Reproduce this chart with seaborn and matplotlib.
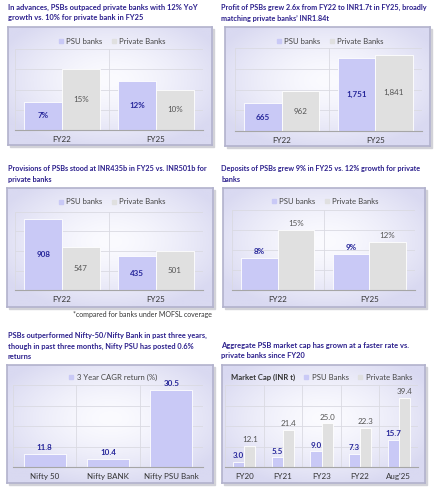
import numpy as np
import pandas as pd
import matplotlib
matplotlib.use('Agg')
import matplotlib.pyplot as plt
import seaborn as sns
from matplotlib.patches import Rectangle
from matplotlib.lines import Line2D
from matplotlib.colors import to_rgb

# ---- data ----
periods = ['FY22', 'FY25']
adv_psu = [7, 12]
adv_pvt = [15, 10]
profit_psu = [665, 1751]
profit_pvt = [962, 1841]
prov_psu = [908, 435]
prov_pvt = [547, 501]
dep_psu = [8, 9]
dep_pvt = [15, 12]
indices = ['Nifty 50', 'Nifty BANK', 'Nifty PSU Bank']
cagr = [11.8, 10.4, 30.5]
mc_periods = ['FY20', 'FY21', 'FY23', 'FY22', "Aug'25"]
mc_psu = [3.0, 5.5, 9.0, 7.3, 15.7]
mc_pvt = [12.1, 21.4, 25.0, 22.3, 39.4]

W, H = 440, 500
PSU = '#c9c9f6'
PVT = '#e0e0e0'
TITLE_C = '#2b1f8c'
PSU_LBL = '#26269a'
PVT_LBL = '#555555'
GRID = '#dadae2'

sns.set_style('white')
plt.rcParams['font.family'] = ['Lato', 'DejaVu Sans']

fig = plt.figure(figsize=(W / 100, H / 100), dpi=100)
fig.patch.set_facecolor('white')
renderer = fig.canvas.get_renderer()


def rect(x0, y0, x1, y1):
    return [x0 / W, 1 - y1 / H, (x1 - x0) / W, (y1 - y0) / H]


def fx(x):
    return x / W


def fy(y):
    return 1 - y / H


# soft lavender box background (white centre, lavender rim)
gy, gx = np.mgrid[0:1:120j, 0:1:200j]
r = np.clip(np.sqrt(((gx - 0.5) / 0.6) ** 2 + ((gy - 0.45) / 0.6) ** 2), 0, 1)
c0, c1 = np.array(to_rgb('#fbfbff')), np.array(to_rgb('#d9d9f1'))
grad = c0 + (c1 - c0) * (r[..., None] ** 1.5)


def box(x0, y0, x1, y1):
    fig.patches.append(Rectangle((fx(x0 + 2), fy(y1 + 2)), (x1 - x0) / W, (y1 - y0) / H,
                                 transform=fig.transFigure, color='#d2d2d8', zorder=0))
    bg = fig.add_axes(rect(x0, y0, x1, y1), zorder=1)
    bg.imshow(grad, aspect='auto', extent=[0, 1, 0, 1])
    bg.set_xticks([])
    bg.set_yticks([])
    for s in bg.spines.values():
        s.set_color('#b2b2cc')
        s.set_linewidth(1.2)


def title(x, y, txt, right):
    # shrink each title so its widest line ends where the reference's does
    t = fig.text(fx(x), fy(y), txt, ha='left', va='top', fontsize=6.5, fontweight='bold',
                 color=TITLE_C, linespacing=1.3, family=['Liberation Sans Narrow', 'Lato'])
    w = t.get_window_extent(renderer).width
    t.set_fontsize(6.5 * (right - x) / w)
    t.set_linespacing(1.3 * 6.5 / t.get_fontsize())


def legend(ax, xc, y, labels, colors):
    handles = [Line2D([], [], marker='s', ls='', markersize=3, color=c) for c in colors]
    ax.legend(handles, labels, ncol=len(labels), loc='center', frameon=False,
              bbox_to_anchor=(fx(xc), fy(y)), bbox_transform=fig.transFigure,
              fontsize=5.6, handlelength=0.6, handletextpad=0.4, columnspacing=1.2,
              labelcolor='#444444')


def style(ax, n, lo, hi):
    ax.set_facecolor('none')
    ax.set_ylim(lo, hi)
    ax.set_xlim(-0.5, n - 0.5)
    ax.set_yticks(np.linspace(lo, hi, 5))
    ax.yaxis.grid(True, color=GRID, lw=0.6)
    ax.set_axisbelow(True)
    for b in np.arange(n + 1) - 0.5:
        ax.axvline(b, color=GRID, lw=0.6, zorder=0)
    for k, s in ax.spines.items():
        s.set_visible(k == 'bottom')
    ax.spines['bottom'].set_color('#a6a6a6')
    ax.spines['bottom'].set_linewidth(0.8)
    ax.tick_params(axis='y', left=False, labelleft=False)
    ax.tick_params(axis='x', length=0, pad=4, labelsize=5.8, labelcolor='#333333')
    ax.set_xlabel('')
    ax.set_ylabel('')


def grouped(plot_rect, cats, psu, pvt, lo, hi, width, fmt, inside):
    ax = fig.add_axes(rect(*plot_rect), zorder=2)
    df = pd.DataFrame({'cat': cats * 2, 'bank': ['PSU'] * len(cats) + ['PVT'] * len(cats),
                       'val': list(psu) + list(pvt)})
    sns.barplot(data=df, x='cat', y='val', hue='bank', palette=[PSU, PVT], width=width,
                saturation=1, edgecolor='white', linewidth=0.6, legend=False, ax=ax)
    style(ax, len(cats), lo, hi)
    for cont, col, wt in zip(ax.containers, [PSU_LBL, PVT_LBL], ['bold', 'normal']):
        if inside:
            ax.bar_label(cont, fmt=fmt, label_type='center', fontsize=5.8, color=col, fontweight=wt)
        else:
            ax.bar_label(cont, fmt=fmt, padding=2, fontsize=5.8, color=col, fontweight=wt)
    return ax


# ---- panel 1: advances ----
title(8, 4, 'In advances, PSBs outpaced private banks with 12% YoY\ngrowth vs. 10% for private bank in FY25', 197)
box(8, 27, 212, 145)
ax = grouped((15, 49, 203, 130), periods, adv_psu, adv_pvt, 0, 20, 0.8, '{:.0f}%', True)
legend(ax, 112, 41, ['PSU banks', 'Private Banks'], [PSU, PVT])

# ---- panel 2: profit ----
title(221, 4, 'Profit of PSBs grew 2.6x from FY22 to INR1.7t in FY25, broadly\nmatching private banks\u2019 INR1.84t', 428)
box(225, 27, 430, 146)
ax = grouped((235, 48, 422, 131), periods, profit_psu, profit_pvt, 0, 2000, 0.8, '{:,.0f}', True)
legend(ax, 330, 41, ['PSU banks', 'Private Banks'], [PSU, PVT])

# ---- panel 3: provisions ----
title(8, 165, 'Provisions of PSBs stood at INR435b in FY25 vs. INR501b for\nprivate banks', 208)
box(7, 188, 213, 307)
ax = grouped((15, 212, 203, 290), periods, prov_psu, prov_pvt, 0, 1000, 0.8, '{:.0f}', True)
legend(ax, 112, 202, ['PSU banks', 'Private Banks'], [PSU, PVT])
fig.text(fx(212), fy(315), '*compared for banks under MOFSL coverage', ha='right', va='center',
         fontsize=5.0, color='#333333')

# ---- panel 4: deposits ----
title(221, 165, 'Deposits of PSBs grew 9% in FY25 vs. 12% growth for private\nbanks', 422)
box(223, 188, 425, 307)
ax = grouped((232, 210, 415, 290), periods, dep_psu, dep_pvt, 0, 20, 0.8, '{:.0f}%', False)
legend(ax, 325, 201, ['PSU banks', 'Private Banks'], [PSU, PVT])

# ---- panel 5: index returns ----
title(8, 332, 'PSBs outperformed Nifty-50/Nifty Bank in past three years,\nthough in past three months, Nifty PSU has posted 0.6%\nreturns', 207)
box(7, 365, 213, 483)
ax = fig.add_axes(rect(13, 385, 203, 467), zorder=2)
sns.barplot(x=indices, y=cagr, color=PSU, width=0.66, saturation=1,
            edgecolor='white', linewidth=0.6, ax=ax)
style(ax, len(indices), 8, 32)
ax.bar_label(ax.containers[0], fmt='{:.1f}', padding=2, fontsize=5.8, color=PSU_LBL, fontweight='bold')
legend(ax, 113, 377, ['3 Year CAGR return (%)'], [PSU])

# ---- panel 6: market cap ----
title(221, 342, 'Aggregate PSB market cap has grown at a faster rate vs.\nprivate banks since FY20', 407)
box(222, 365, 425, 483)
ax = grouped((225, 385, 418, 467), mc_periods, mc_psu, mc_pvt, 0, 47, 0.57, '{:.1f}', False)
legend(ax, 358, 377, ['PSU Banks', 'Private Banks'], [PSU, PVT])
fig.text(fx(231), fy(377), 'Market Cap (INR t)', ha='left', va='center', fontsize=5.5,
         fontweight='bold', color='#333333', zorder=5)

fig.savefig('out.png', dpi=100)
